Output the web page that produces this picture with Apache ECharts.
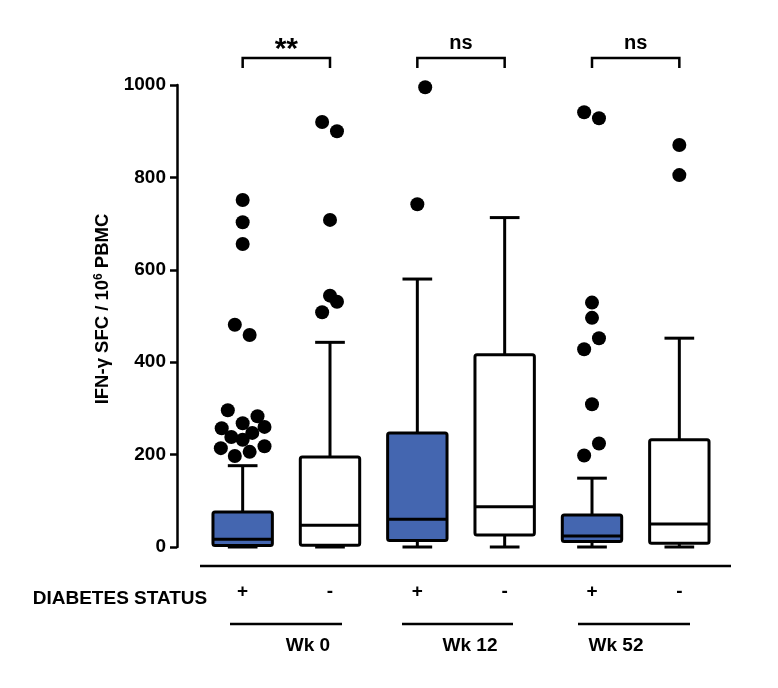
<!DOCTYPE html>
<html>
<head>
<meta charset="utf-8">
<script src="https://cdn.jsdelivr.net/npm/echarts@6/dist/echarts.min.js"></script>
<style>html,body{margin:0;padding:0;background:#fff;}#c{width:778px;height:688px;}</style>
</head>
<body>
<div id="c"></div>
<script>
// ---- data ----
const categories = ['+', '-', '+', '-', '+', '-'];
const boxFill = ['#4466b0', '#ffffff', '#4466b0', '#ffffff', '#4466b0', '#ffffff'];
const boxMin = [0, 0, 0, 0, 0, 0];
const boxQ1 = [3, 4, 14, 26, 12, 8];
const boxMedian = [17, 47, 60, 87, 24, 50];
const boxQ3 = [76, 195, 247, 416, 69, 232];
const boxMax = [176, 443, 580, 713, 149, 452];

const outlierGroup = [
  0, 0, 0, 0, 0, 0, 0, 0, 0, 0, 0, 0, 0, 0, 0, 0, 0,
  1, 1, 1, 1, 1, 1,
  2, 2,
  4, 4, 4, 4, 4, 4, 4, 4, 4,
  5, 5
];
const outlierValue = [
  751, 703, 656, 481, 459, 296, 283, 268, 257, 260, 238, 247, 232, 214, 218, 197, 206,
  920, 900, 708, 544, 531, 508,
  995, 742,
  941, 928, 529, 496, 452, 428, 309, 224, 198,
  870, 805
];
const outlierJitter = [
  0, 0, 0, -0.09, 0.08, -0.17, 0.17, 0, -0.24, 0.25, -0.13, 0.11, 0, -0.25, 0.25, -0.09, 0.08,
  -0.09, 0.08, 0, 0, 0.08, -0.09,
  0.09, 0,
  -0.09, 0.08, 0, 0, 0.08, -0.09, 0, 0.08, -0.09,
  0, 0
];

const comparisonFrom = [0, 2, 4];
const comparisonTo = [1, 3, 5];
const comparisonLabel = ['**', 'ns', 'ns'];

const weekLabels = ['Wk 0', 'Wk 12', 'Wk 52'];
const yTicks = { min: 0, max: 1000, interval: 200 };

// ---- build ----
const FONT = '"Liberation Sans", Arial, sans-serif';
const boxData = categories.map((c, i) => [i, boxMin[i], boxQ1[i], boxMedian[i], boxQ3[i], boxMax[i]]);
const outlierData = outlierValue.map((v, i) => [outlierGroup[i], v, outlierJitter[i]]);
const bracketData = comparisonLabel.map((l, i) => [comparisonFrom[i], comparisonTo[i], l]);

const chart = echarts.init(document.getElementById('c'));
const LW = 3;

chart.setOption({
  animation: false,
  backgroundColor: '#ffffff',
  grid: { left: 199, right: 55, top: 85, bottom: 141 },
  xAxis: {
    type: 'category',
    data: categories,
    boundaryGap: true,
    axisLine: { show: false },
    axisTick: { show: false },
    splitLine: { show: false },
    axisLabel: { margin: 35, color: '#000', fontSize: 19, fontWeight: 'bold', fontFamily: FONT }
  },
  yAxis: {
    type: 'value',
    min: yTicks.min, max: yTicks.max, interval: yTicks.interval,
    offset: 22,
    name: '{a|IFN-γ SFC / 10}{s|6}{a| PBMC}',
    nameLocation: 'middle',
    nameRotate: 90,
    nameGap: 56,
    nameTextStyle: {
      color: '#000', fontSize: 18, fontWeight: 'bold', fontFamily: FONT,
      padding: [0, 0, 0, 14],
      rich: {
        a: { color: '#000', fontSize: 18.5, fontWeight: 'bold', fontFamily: FONT, lineHeight: 22 },
        s: { color: '#000', fontSize: 12, fontWeight: 'bold', fontFamily: FONT, verticalAlign: 'top', lineHeight: 14 }
      }
    },
    axisLine: { show: true, lineStyle: { color: '#000', width: 2.5 } },
    axisTick: { show: true, length: 7, lineStyle: { color: '#000', width: 2.5 } },
    splitLine: { show: false },
    axisLabel: { margin: 11, color: '#000', fontSize: 19, fontWeight: 'bold', fontFamily: FONT,
      formatter: function (v) { return String(v); } }
  },
  series: [
    {
      type: 'custom',
      name: 'box',
      data: boxData,
      z: 2,
      renderItem: function (params, api) {
        const i = api.value(0);
        const bw = api.size([1, 0])[0] * 0.68;
        const cw = bw / 2;
        const pMin = api.coord([i, api.value(1)]);
        const pQ1 = api.coord([i, api.value(2)]);
        const pMed = api.coord([i, api.value(3)]);
        const pQ3 = api.coord([i, api.value(4)]);
        const pMax = api.coord([i, api.value(5)]);
        const x = pMed[0];
        const stroke = { stroke: '#000', lineWidth: LW, fill: null };
        return {
          type: 'group',
          children: [
            { type: 'line', shape: { x1: x, y1: pQ1[1], x2: x, y2: pMin[1] }, style: stroke },
            { type: 'line', shape: { x1: x - cw / 2, y1: pMin[1], x2: x + cw / 2, y2: pMin[1] }, style: stroke },
            { type: 'line', shape: { x1: x, y1: pQ3[1], x2: x, y2: pMax[1] }, style: stroke },
            { type: 'line', shape: { x1: x - cw / 2, y1: pMax[1], x2: x + cw / 2, y2: pMax[1] }, style: stroke },
            { type: 'rect', shape: { x: x - bw / 2, y: pQ3[1], width: bw, height: pQ1[1] - pQ3[1], r: 2 },
              style: { fill: boxFill[i], stroke: '#000', lineWidth: LW } },
            { type: 'line', shape: { x1: x - bw / 2, y1: pMed[1], x2: x + bw / 2, y2: pMed[1] }, style: stroke }
          ]
        };
      }
    },
    {
      type: 'custom',
      name: 'outliers',
      data: outlierData,
      z: 3,
      renderItem: function (params, api) {
        const p = api.coord([api.value(0), api.value(1)]);
        const w = api.size([1, 0])[0];
        return {
          type: 'circle',
          shape: { cx: p[0] + api.value(2) * w, cy: p[1], r: 7 },
          style: { fill: '#000' }
        };
      }
    },
    {
      type: 'custom',
      name: 'brackets',
      data: bracketData,
      z: 3,
      renderItem: function (params, api) {
        const a = api.coord([api.value(0), yTicks.max]);
        const b = api.coord([api.value(1), yTicks.max]);
        const yTop = a[1] - 27;
        const yLeg = yTop + 10;
        const s = { stroke: '#000', lineWidth: 2.5, fill: null };
        const label = bracketData[params.dataIndex][2];
        const isStar = label.indexOf('*') >= 0;
        return {
          type: 'group',
          children: [
            { type: 'polyline', shape: { points: [[a[0], yLeg], [a[0], yTop], [b[0], yTop], [b[0], yLeg]] }, style: s },
            { type: 'text', style: { text: label, x: (a[0] + b[0]) / 2, y: isStar ? yTop - 8 : yTop - 15,
              align: 'center', verticalAlign: 'middle', fill: '#000',
              font: (isStar ? 'bold 30px ' : 'bold 20px ') + FONT } }
          ]
        };
      }
    }
  ],
  graphic: [
    { type: 'line', shape: { x1: 200, y1: 566, x2: 731, y2: 566 }, style: { stroke: '#000', lineWidth: 2.5 } },
    { type: 'text', x: 120, y: 599, style: { text: 'DIABETES STATUS', align: 'center', verticalAlign: 'middle', fill: '#000', font: 'bold 19px ' + FONT } },
    { type: 'line', shape: { x1: 230, y1: 624, x2: 342, y2: 624 }, style: { stroke: '#000', lineWidth: 2.5 } },
    { type: 'line', shape: { x1: 402, y1: 624, x2: 513, y2: 624 }, style: { stroke: '#000', lineWidth: 2.5 } },
    { type: 'line', shape: { x1: 578, y1: 624, x2: 690, y2: 624 }, style: { stroke: '#000', lineWidth: 2.5 } },
    { type: 'text', x: 308, y: 646, style: { text: weekLabels[0], align: 'center', verticalAlign: 'middle', fill: '#000', font: 'bold 19px ' + FONT } },
    { type: 'text', x: 470, y: 646, style: { text: weekLabels[1], align: 'center', verticalAlign: 'middle', fill: '#000', font: 'bold 19px ' + FONT } },
    { type: 'text', x: 616, y: 646, style: { text: weekLabels[2], align: 'center', verticalAlign: 'middle', fill: '#000', font: 'bold 19px ' + FONT } }
  ]
});
</script>
</body>
</html>
